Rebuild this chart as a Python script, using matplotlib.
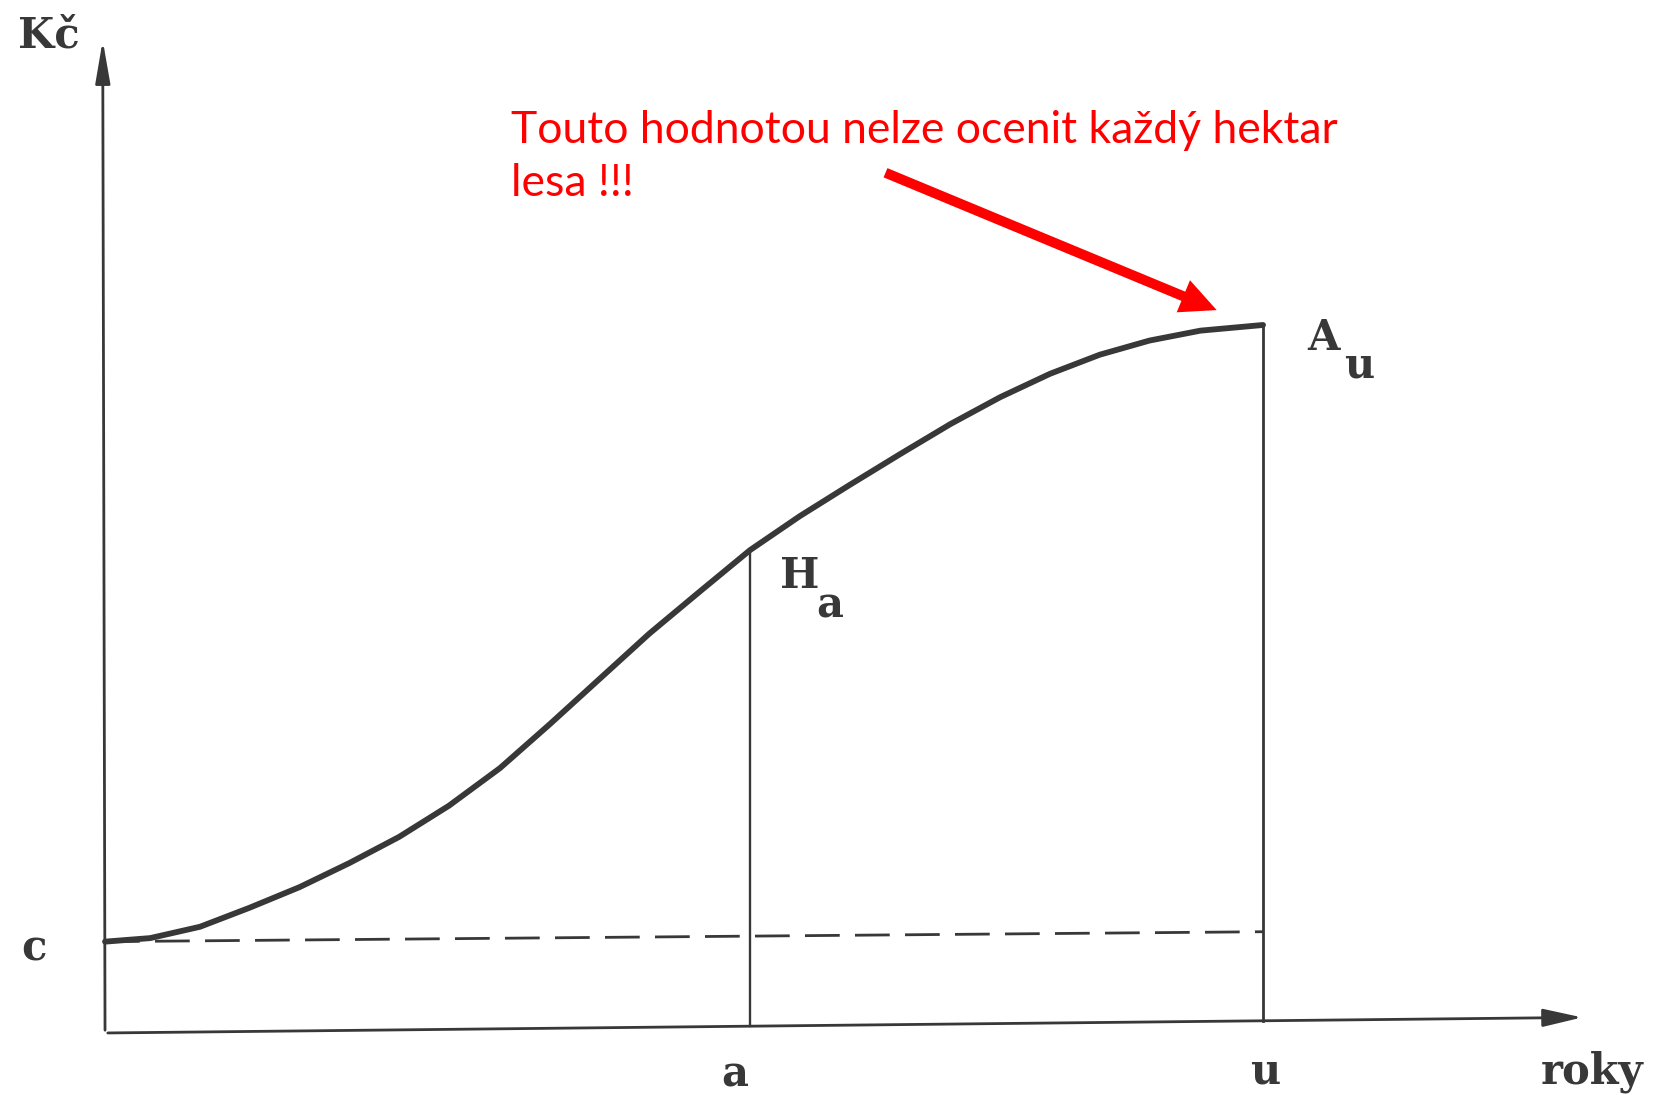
import numpy as np
import matplotlib.pyplot as plt

# roky (u = 100) a hodnota porostu v Kč (A_u = 100), odečteno ze skenu
roky = [0, 3.9, 8.2, 12.5, 16.8, 21.1, 25.4, 29.7, 34.1, 38.4, 42.7, 47.0,
        51.4, 55.7, 60.0, 64.3, 68.7, 73.0, 77.3, 81.6, 85.9, 90.2, 94.6, 100.0]
hodnota = [12.9, 13.4, 15.0, 17.7, 20.6, 24.0, 27.7, 32.1, 37.4, 43.6, 50.0, 56.4,
           62.4, 68.2, 73.0, 77.4, 81.8, 86.0, 89.8, 93.1, 95.8, 97.8, 99.2, 100.0]

c = 12.9
c_konec = 14.3
a = 55.7
u = 100.0
H_a = 68.2
A_u = 100.0

popisky_x = ['a', 'u']
text = ['Touto hodnotou nelze ocenit každý hektar', 'lesa !!!']

seda = '#383838'
cervena = '#ff0000'
pismo = dict(family='DejaVu Serif', weight='bold', color=seda)

fig = plt.figure(figsize=(16.66, 10.95), dpi=100)
ax = fig.add_axes([0, 0, 1, 1])
ax.set_xlim(-9.07, 134.8)
ax.set_ylim(-8.76, 145.9)
ax.axis('off')

# osy (mirne sikma osa x jako na skenu)
sklon = 2.2 / 127.7
ax.annotate('', xy=(-0.2, 140.6), xytext=(0, 0),
            arrowprops=dict(arrowstyle='-|>,head_length=2.6,head_width=0.45', color=seda, lw=2))
ax.annotate('', xy=(127.8, 127.8 * sklon), xytext=(0, 0),
            arrowprops=dict(arrowstyle='-|>,head_length=2.4,head_width=0.55', color=seda, lw=2))

# krivka hodnoty
ax.plot(roky, hodnota, color=seda, lw=4.2, solid_capstyle='round', solid_joinstyle='round')

# cara c
ax.plot([0, u], [c, c_konec], color=seda, lw=2, linestyle=(0, (12.5, 5.5)))

# svisle cary
ax.plot([a, a], [a * sklon, H_a], color=seda, lw=1.7)
ax.plot([u, u], [u * sklon, A_u], color=seda, lw=2)

# popisky
ax.text(-7.5, 140.9, 'Kč', fontsize=30, ha='left', va='center', **pismo)
ax.text(-6.1, 11.9, 'c', fontsize=30, ha='center', va='center', **pismo)
ax.text(58.3, 64.6, 'H', fontsize=30, ha='left', va='center', **pismo)
ax.text(61.4, 60.4, 'a', fontsize=30, ha='left', va='center', **pismo)
ax.text(103.8, 98.1, 'A', fontsize=30, ha='left', va='center', **pismo)
ax.text(107.0, 94.3, 'u', fontsize=30, ha='left', va='center', **pismo)
ax.text(a - 1.3, -5.8, popisky_x[0], fontsize=30, ha='center', va='center', **pismo)
ax.text(u + 0.2, -5.5, popisky_x[1], fontsize=30, ha='center', va='center', **pismo)
ax.text(124.0, -5.5, 'roky', fontsize=30, ha='left', va='center', **pismo)

# cerveny komentar a sipka
ax.text(35.1, 125.7, text[0], fontsize=32, color=cervena, family='Lato', va='baseline')
ax.text(35.1, 118.2, text[1], fontsize=32, color=cervena, family='Lato', va='baseline')
ax.annotate('', xy=(96.0, 102.1), xytext=(67.4, 121.5),
            arrowprops=dict(width=7.2, headwidth=25, headlength=26, color=cervena, lw=0, shrink=0))

fig.savefig('out.png', dpi=100)
